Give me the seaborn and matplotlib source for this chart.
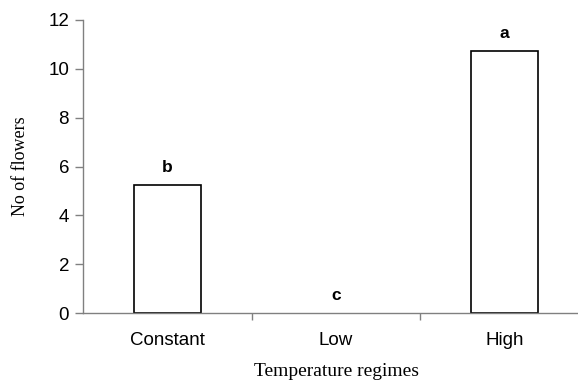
import pandas as pd
import matplotlib
matplotlib.use("Agg")
import matplotlib.pyplot as plt
import seaborn as sns

# Data
regimes = ["Constant", "Low", "High"]
flowers = [5.25, 0.0, 10.75]
letters = ["b", "c", "a"]

df = pd.DataFrame({"regime": regimes, "flowers": flowers})

sns.set_style("white")
plt.rcParams["font.family"] = ["Liberation Sans", "DejaVu Sans"]
plt.rcParams["text.color"] = "black"
plt.rcParams["axes.labelcolor"] = "black"
plt.rcParams["xtick.labelcolor"] = "black"
plt.rcParams["ytick.labelcolor"] = "black"

fig = plt.figure(figsize=(5.78, 3.82), dpi=100)
ax = fig.add_axes([83 / 578, 69 / 382, 506 / 578, 293 / 382])

sns.barplot(x="regime", y="flowers", data=df, order=regimes, width=0.4,
            color="white", edgecolor="black", linewidth=1.2, ax=ax)

# zero-height bar: no visible outline
for p in ax.patches:
    if p.get_height() == 0:
        p.set_linewidth(0)

# significance letters above bars
for i, (v, lab) in enumerate(zip(flowers, letters)):
    ax.text(i, v + 0.4, lab, ha="center", va="bottom",
            fontsize=12.5, fontweight="bold", color="black")

ax.set_xlim(-0.5, 2.5)
ax.set_ylim(0, 12)
ax.set_yticks(range(0, 13, 2))
ax.tick_params(axis="y", direction="out", length=6, width=1, color="#808080",
               labelsize=13.5, pad=4, left=True, labelcolor="black")

# category names between boundary ticks
ax.set_xticks([0.5, 1.5])
ax.set_xticklabels([])
ax.set_xticks([0, 1, 2], minor=True)
ax.set_xticklabels(regimes, minor=True)
ax.tick_params(axis="x", which="major", direction="out", length=5, width=1,
               color="#808080", bottom=True)
ax.tick_params(axis="x", which="minor", length=0, labelsize=13.5, pad=14,
               labelcolor="black")

for s in ["top", "right"]:
    ax.spines[s].set_visible(False)
for s in ["left", "bottom"]:
    ax.spines[s].set_color("#808080")
    ax.spines[s].set_linewidth(1)

ax.set_xlabel("Temperature regimes", family="Liberation Serif", fontsize=14,
              labelpad=10, color="black")
ax.set_ylabel("No of flowers", family="Liberation Serif", fontsize=13,
              labelpad=14, color="black")

fig.savefig("out.png", dpi=100)
